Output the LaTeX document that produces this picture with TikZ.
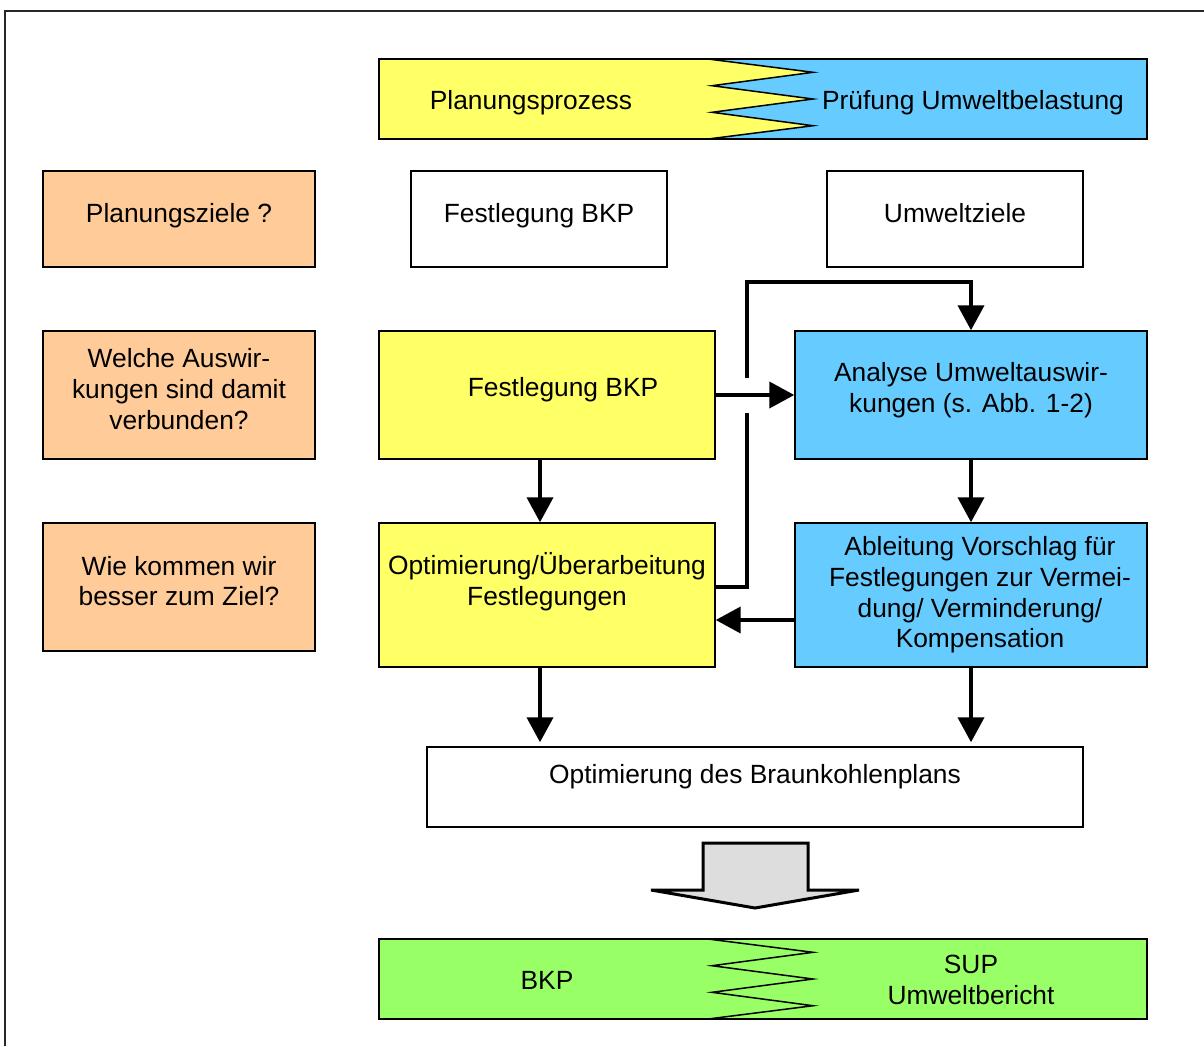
\documentclass[tikz,border=0pt]{standalone}
\usepackage{fontspec}
\setmainfont{Liberation Sans}
\usepackage{xcolor}
\usepackage{tikz}
\usetikzlibrary{arrows.meta,positioning}
\definecolor{planyellow}{HTML}{FFFF66}
\definecolor{umweltblue}{HTML}{66CCFF}
\definecolor{supgreen}{HTML}{99FF66}
\definecolor{frageorange}{HTML}{FFCC99}
\definecolor{pfeilgray}{HTML}{DDDDDD}

\begin{document}
\begin{tikzpicture}[
    x=0.02cm, y=-0.02cm,
    box/.style={rectangle, draw=black, line width=0.03cm, align=center, inner xsep=0.1cm, font=\fontsize{15}{17.5}\selectfont},
    frage/.style={box, fill=frageorange, minimum width=5.44cm},
    plain/.style={box, fill=white, minimum width=5.12cm, minimum height=1.92cm},
    plan/.style={box, fill=planyellow, minimum width=6.72cm},
    umwelt/.style={box, fill=umweltblue, minimum width=7.04cm},
    lift/.style={text depth=#1},
    banner/.style={align=center, font=\fontsize{15}{17.5}\selectfont},
    arrow/.style={-{Triangle[length=0.5cm,width=0.52cm]}, line width=0.08cm},
    conn/.style={line width=0.08cm}
]
    \useasboundingbox (0,0) rectangle (1204,1046);
    % outer frame
    \draw[line width=0.04cm, black!85] (5,1046) -- (5,11) -- (1204,11);

    % top banner
    \fill[planyellow] (379,59) -- (708,59) -- (813,72.3) -- (712,85.7) -- (813,99) -- (712,112.3) -- (813,125.7) -- (708,139) -- (379,139) -- cycle;
    \fill[umweltblue] (708,59) -- (1147,59) -- (1147,139) -- (708,139) -- (813,125.7) -- (712,112.3) -- (813,99) -- (712,85.7) -- (813,72.3) -- cycle;
    \draw[line width=0.03cm] (379,59) rectangle (1147,139);
    \draw[line width=0.03cm] (708,59) -- (813,72.3) -- (712,85.7) -- (813,99) -- (712,112.3) -- (813,125.7) -- (708,139);
    \node[banner] (prozess) at (531,103) {Planungsprozess};
    \node[banner] (pruefung) at (973,103) {Prüfung Umweltbelastung};

    % left column
    \node[frage, minimum height=1.92cm, lift=0.23cm] (planziel) at (179,219) {Planungsziele ?};
    \node[frage, minimum height=2.56cm, lift=0.24cm] (wirkung) at (179,395) {Welche Auswir-\\kungen sind damit\\verbunden?};
    \node[frage, minimum height=2.56cm, lift=0.24cm] (besser) at (179,587) {Wie kommen wir\\besser zum Ziel?};

    % white boxes
    \node[plain, lift=0.23cm] (festwhite) at (539,219) {Festlegung BKP};
    \node[plain, lift=0.24cm] (ziele) at (955,219) {Umweltziele};

    % yellow and blue boxes
    \node[plan, minimum height=2.56cm, lift=0.31cm] (festbkp) at (547,395) {\hspace*{0.64cm}Festlegung BKP};
    \node[plan, minimum height=2.88cm, lift=0.65cm] (optim) at (547,595) {Optimierung/Überarbeitung\\Festlegungen};
    \node[umwelt, minimum height=2.56cm, lift=0.31cm] (analyse) at (971,395) {Analyse Umweltauswir-\\kungen (s. Abb. 1-2)};
    \node[umwelt, minimum height=2.88cm] (ableit) at (971,595) {\hspace*{0.36cm}Ableitung Vorschlag für\\\hspace*{0.36cm}Festlegungen zur Vermei-\\\hspace*{0.36cm}dung/ Verminderung/\\\hspace*{0.36cm}Kompensation};

    \node[box, fill=white, minimum width=13.12cm, minimum height=1.6cm, lift=0.51cm] (bkplan) at (755,787) {Optimierung des Braunkohlenplans};

    % connectors
    \coordinate (gapoben) at (747,378);
    \coordinate (gapunten) at (747,413);
    \draw[arrow] ([xshift=-0.14cm]festbkp.south) -- ([xshift=-0.14cm]optim.north);
    \draw[arrow] (festbkp.east) -- (analyse.west);
    \draw[conn] ([yshift=0.16cm]optim.east) -| (gapunten);
    \draw[arrow] (gapoben) |- ([yshift=0.96cm]analyse.north) -- (analyse.north);
    \draw[arrow] (analyse.south) -- (ableit.north);
    \draw[arrow] ([yshift=-0.5cm]ableit.west) -- ([yshift=-0.5cm]optim.east);
    \draw[arrow] ([xshift=-0.14cm]optim.south) -- ([xshift=-0.14cm,yshift=0.08cm]optim.south |- bkplan.north);
    \draw[arrow] (ableit.south) -- ([yshift=0.08cm]ableit.south |- bkplan.north);

    % big arrow
    \draw[line width=0.06cm, fill=pfeilgray, line join=miter] (703,843) -- (808,843) -- (808,890) -- (859,890) -- (755,908) -- (651,890) -- (703,890) -- cycle;

    % bottom banner
    \fill[supgreen] (379,939) rectangle (1147,1019);
    \draw[line width=0.03cm] (379,939) rectangle (1147,1019);
    \draw[line width=0.03cm] (708,939) -- (813,952.3) -- (712,965.7) -- (813,979) -- (712,992.3) -- (813,1005.7) -- (708,1019);
    \node[banner] (bkp) at (547,980) {BKP};
    \node[banner] (sup) at (971,980) {SUP\\Umweltbericht};
\end{tikzpicture}
\end{document}
